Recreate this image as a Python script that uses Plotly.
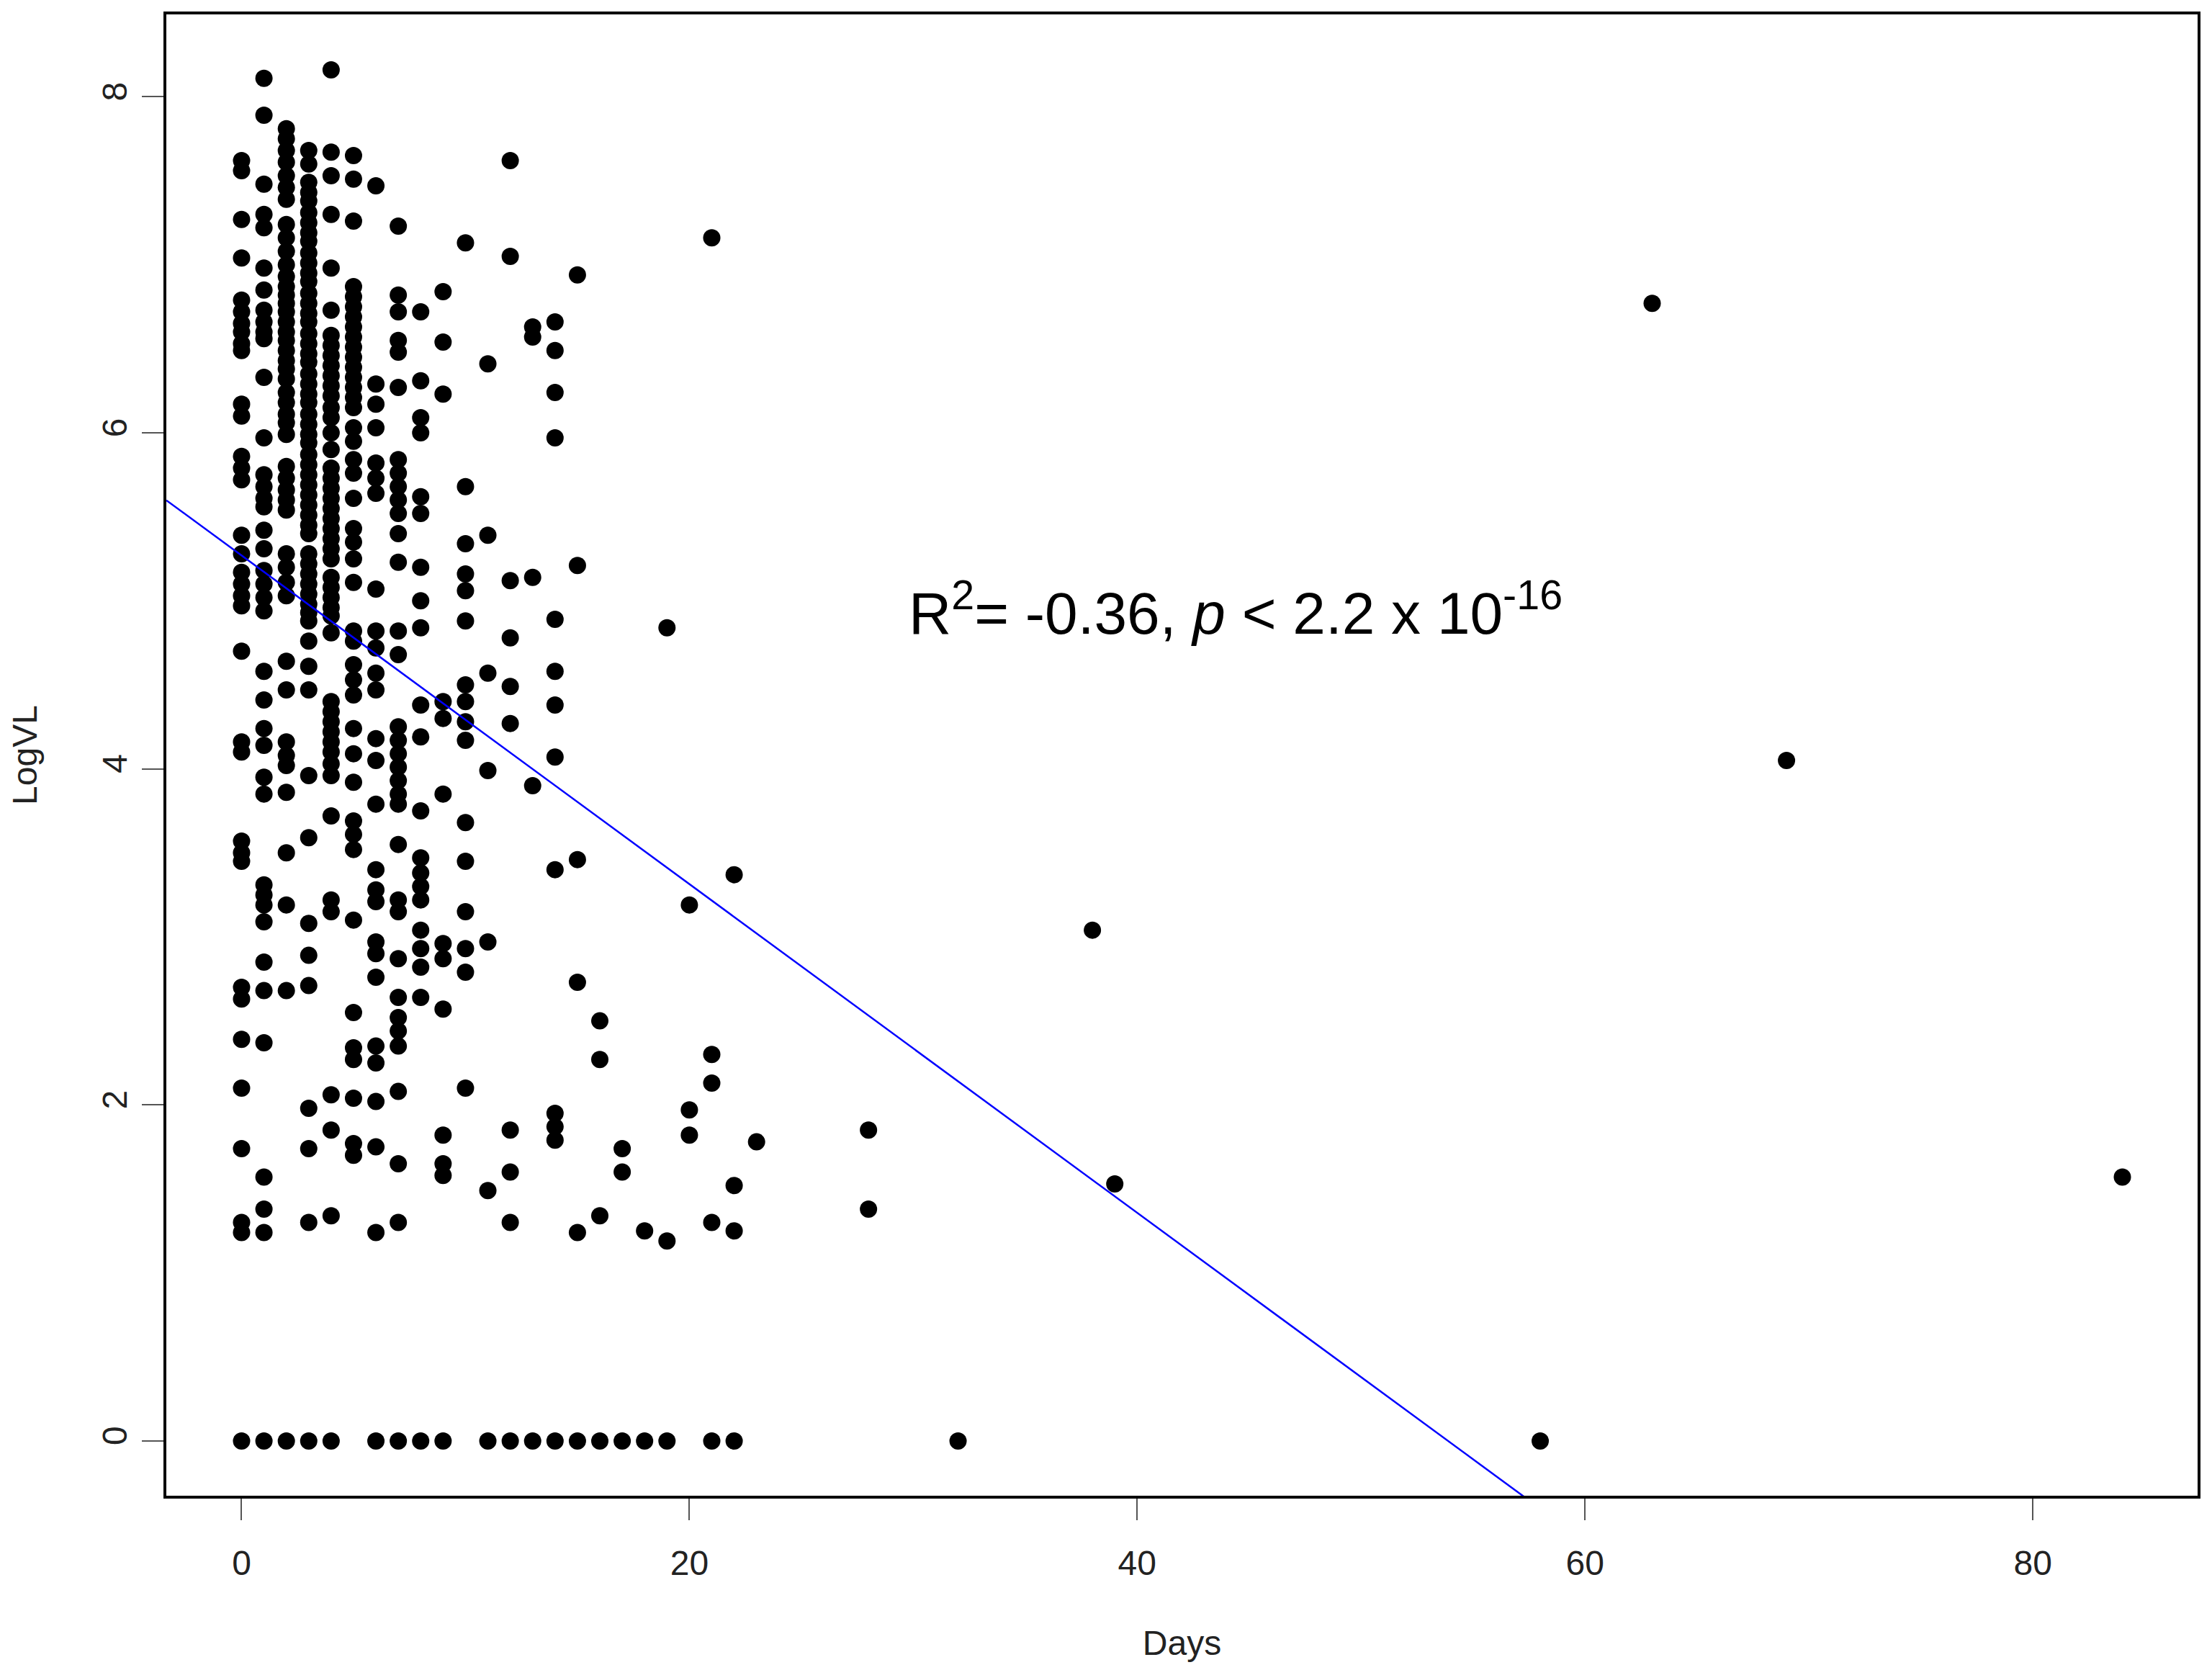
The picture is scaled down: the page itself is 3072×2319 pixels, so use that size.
import plotly.graph_objects as go

vl_day0 = [7.62, 7.56, 7.27, 7.04, 6.79, 6.72, 6.65, 6.60, 6.53, 6.49, 6.17, 6.10, 5.86, 5.79, 5.72,
           5.39, 5.28, 5.17, 5.10, 5.03, 4.97, 4.70, 4.16, 4.10, 3.57, 3.50, 3.45,
           2.70, 2.63, 2.39, 2.10, 1.74, 1.30, 1.24, 0.0]
vl_day1 = [8.11, 7.89, 7.48, 7.30, 7.22, 6.98, 6.85, 6.73, 6.66, 6.60, 6.56, 6.33, 5.97,
           5.75, 5.68, 5.61, 5.56, 5.42, 5.31, 5.18, 5.10, 5.02, 4.94, 4.58, 4.41, 4.24, 4.14,
           3.95, 3.85, 3.31, 3.25, 3.19, 3.09, 2.85, 2.68, 2.37, 1.57, 1.38, 1.24, 0.0]
vl_day2 = [7.81, 7.75, 7.68, 7.61, 7.53, 7.46, 7.39, 7.24, 7.16, 7.08, 7.00, 6.93, 6.87, 6.82,
           6.77, 6.72, 6.66, 6.60, 6.55, 6.49, 6.43, 6.38, 6.32, 6.24, 6.18, 6.11, 6.06, 5.99,
           5.80, 5.73, 5.66, 5.60, 5.54, 5.28, 5.20, 5.11, 5.03, 4.64, 4.47, 4.16, 4.08, 4.02,
           3.86, 3.50, 3.19, 2.68, 0.0]
vl_day3 = [7.68, 7.60, 7.49, 7.43, 7.38, 7.31, 7.25, 7.19, 7.14, 7.07, 7.01, 6.95, 6.90, 6.83,
           6.77, 6.71, 6.66, 6.59, 6.53, 6.47, 6.42, 6.35, 6.29, 6.23, 6.18, 6.11, 6.05, 5.99,
           5.94, 5.87, 5.81, 5.75, 5.69, 5.63, 5.57, 5.51, 5.45, 5.40, 5.28, 5.22, 5.16, 5.10,
           5.04, 4.98, 4.93, 4.88, 4.76, 4.61, 4.47, 3.96, 3.59, 3.08, 2.89, 2.71, 1.98, 1.74,
           1.30, 0.0]
vl_day4 = [8.16, 7.67, 7.53, 7.30, 6.98, 6.73, 6.58, 6.52, 6.46, 6.40, 6.34, 6.28, 6.22, 6.15,
           6.09, 6.00, 5.90, 5.79, 5.73, 5.67, 5.61, 5.55, 5.49, 5.43, 5.37, 5.31, 5.25, 5.14,
           5.08, 5.02, 4.96, 4.91, 4.81, 4.40, 4.34, 4.28, 4.22, 4.16, 4.10, 4.03, 3.96, 3.72,
           3.22, 3.15, 2.06, 1.85, 1.34, 0.0]
vl_day5 = [7.65, 7.51, 7.26, 6.87, 6.81, 6.75, 6.69, 6.63, 6.57, 6.51, 6.45, 6.39, 6.33, 6.27,
           6.21, 6.15, 6.03, 5.95, 5.84, 5.76, 5.61, 5.43, 5.35, 5.25, 5.11, 4.82, 4.76, 4.62,
           4.53, 4.44, 4.24, 4.09, 3.92, 3.69, 3.61, 3.52, 3.10, 2.55, 2.34, 2.27, 2.04, 1.77,
           1.70]
vl_day6 = [7.47, 6.29, 6.17, 6.03, 5.82, 5.73, 5.64, 5.07, 4.82, 4.72, 4.57, 4.47, 4.18, 4.05,
           3.79, 3.40, 3.28, 3.21, 2.97, 2.90, 2.76, 2.35, 2.25, 2.02, 1.75, 1.24, 0.0]
vl_day7 = [7.23, 6.82, 6.72, 6.55, 6.48, 6.27, 5.84, 5.76, 5.68, 5.60, 5.52, 5.40, 5.23, 4.82,
           4.68, 4.25, 4.17, 4.09, 4.01, 3.93, 3.85, 3.79, 3.55, 3.22, 3.15, 2.87, 2.64, 2.52,
           2.44, 2.35, 2.08, 1.65, 1.30, 0.0]
vl_day8 = [6.72, 6.31, 6.09, 6.00, 5.62, 5.52, 5.20, 5.00, 4.84, 4.38, 4.19, 3.75, 3.47, 3.38,
           3.30, 3.22, 3.04, 2.93, 2.82, 2.64, 0.0]
vl_day9 = [6.84, 6.54, 6.23, 4.40, 4.30, 3.85, 2.96, 2.87, 2.57, 1.82, 1.65, 1.58, 0.0]
vl_day10 = [7.13, 5.68, 5.34, 5.16, 5.06, 4.88, 4.50, 4.40, 4.28, 4.17, 3.68, 3.45, 3.15, 2.93,
            2.79, 2.10]
vl_day11 = [6.41, 5.39, 4.57, 3.99, 2.97, 1.49, 0.0]
vl_day12 = [7.62, 7.05, 5.12, 4.78, 4.49, 4.27, 1.85, 1.60, 1.30, 0.0]
vl_day13 = [6.63, 6.57, 5.14, 3.90, 0.0]
vl_day14 = [6.66, 6.49, 6.24, 5.97, 4.89, 4.58, 4.38, 4.07, 3.40, 1.95, 1.87, 1.79, 0.0]
vl_day15 = [6.94, 5.21, 3.46, 2.73, 1.24, 0.0]
vl_day16 = [2.50, 2.27, 1.34, 0.0]
vl_day17 = [1.74, 1.60, 0.0]
vl_day18 = [1.25, 0.0]
vl_day19 = [4.84, 1.19, 0.0]
vl_day20 = [3.19, 1.97, 1.82]
vl_day21 = [7.16, 2.30, 2.13, 1.30, 0.0]
vl_day22 = [3.37, 1.52, 1.25, 0.0]
vl_day23 = [1.78]
vl_day28 = [1.85, 1.38]
vl_day32 = [0.0]
vl_day38 = [3.04]
vl_day39 = [1.53]
vl_day58 = [0.0]
vl_day63 = [6.77]
vl_day69 = [4.05]
vl_day84 = [1.57]

columns = {
    0: vl_day0, 1: vl_day1, 2: vl_day2, 3: vl_day3, 4: vl_day4, 5: vl_day5, 6: vl_day6,
    7: vl_day7, 8: vl_day8, 9: vl_day9, 10: vl_day10, 11: vl_day11, 12: vl_day12,
    13: vl_day13, 14: vl_day14, 15: vl_day15, 16: vl_day16, 17: vl_day17, 18: vl_day18,
    19: vl_day19, 20: vl_day20, 21: vl_day21, 22: vl_day22, 23: vl_day23, 28: vl_day28,
    32: vl_day32, 38: vl_day38, 39: vl_day39, 58: vl_day58, 63: vl_day63, 69: vl_day69,
    84: vl_day84,
}

# regression line (abline) coefficients
fit_intercept = 5.27
fit_slope = -0.0978

x_ticks = [0, 20, 40, 60, 80]
y_ticks = [0, 2, 4, 6, 8]
x_range = [-3.36, 87.36]
y_range = [-0.326, 8.49]

days = []
logvl = []
for d, vals in columns.items():
    for v in vals:
        days.append(d)
        logvl.append(v)

line_x = x_range
line_y = [fit_intercept + fit_slope * xv for xv in line_x]

fig = go.Figure()
fig.add_trace(go.Scatter(
    x=days, y=logvl, mode="markers",
    marker=dict(symbol="circle", size=24, color="black", line=dict(width=0)),
    showlegend=False, hoverinfo="x+y",
))
fig.add_trace(go.Scatter(
    x=line_x, y=line_y, mode="lines",
    line=dict(color="#0000FF", width=2.5),
    showlegend=False, hoverinfo="skip",
))

axis_font = dict(family="Liberation Sans, Arial, sans-serif", size=48, color="#222222")

fig.update_layout(
    width=3064, height=2311,
    margin=dict(l=223, r=20, t=8, b=242, pad=0),
    paper_bgcolor="white", plot_bgcolor="white",
    font=axis_font,
    xaxis=dict(
        range=x_range, tickvals=x_ticks, ticktext=[str(t) for t in x_ticks],
        ticks="outside", ticklen=30, tickwidth=2, tickcolor="#555555",
        showline=True, mirror=True, linecolor="black", linewidth=4,
        showgrid=False, zeroline=False, tickfont=axis_font,
        ticklabelstandoff=18,
        title=dict(text="Days", font=axis_font, standoff=70),
    ),
    yaxis=dict(
        range=y_range, tickvals=y_ticks, ticktext=[str(t) for t in y_ticks],
        ticks="outside", ticklen=30, tickwidth=2, tickcolor="#555555",
        showline=True, mirror=True, linecolor="black", linewidth=4,
        showgrid=False, zeroline=False, tickfont=axis_font, tickangle=-90,
        ticklabelstandoff=2,
        title=dict(text="LogVL", font=axis_font, standoff=68),
    ),
    annotations=[dict(
        x=44.4, y=4.95, xref="x", yref="y",
        text="R<sup>2</sup>= -0.36, <i>p</i> &lt; 2.2 x 10<sup>-16</sup>",
        showarrow=False, xanchor="center", yanchor="middle",
        font=dict(family="Liberation Sans, Arial, sans-serif", size=82, color="black"),
    )],
)

fig.write_html("out.html")
